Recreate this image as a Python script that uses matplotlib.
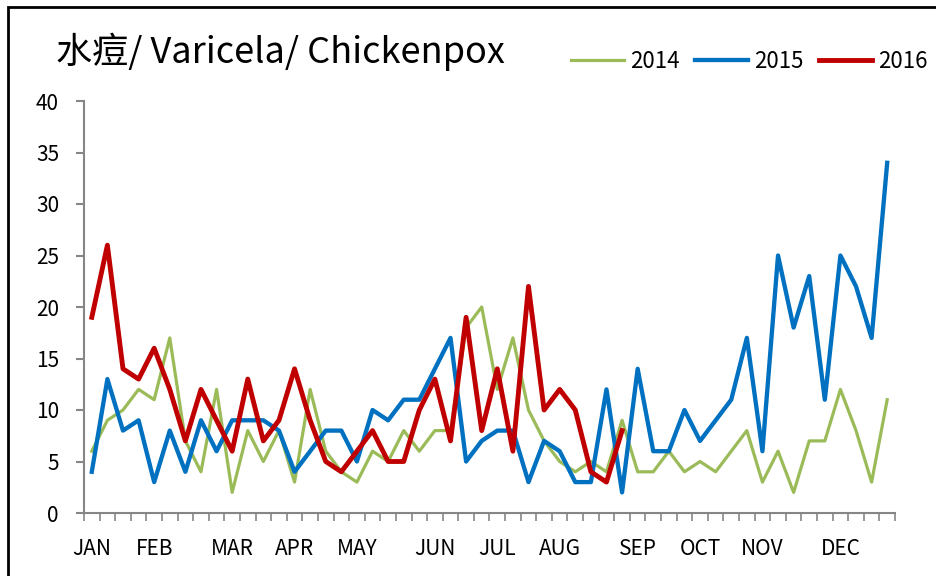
"""
水痘 weekly cases, 2014-2016.
"""

import matplotlib

matplotlib.use("Agg")
import matplotlib.pyplot as plt
from matplotlib.patches import Rectangle

plt.rcParams["font.family"] = ["Noto Sans CJK TC", "DejaVu Sans"]

# weekly counts (52 weeks)
cases_2014 = [6, 9, 10, 12, 11, 17, 7, 4, 12, 2, 8, 5, 8, 3, 12, 6, 4, 3,
              6, 5, 8, 6, 8, 8, 18, 20, 12, 17, 10, 7, 5, 4, 5, 4, 9, 4,
              4, 6, 4, 5, 4, 6, 8, 3, 6, 2, 7, 7, 12, 8, 3, 11]
cases_2015 = [4, 13, 8, 9, 3, 8, 4, 9, 6, 9, 9, 9, 8, 4, 6, 8, 8, 5,
              10, 9, 11, 11, 14, 17, 5, 7, 8, 8, 3, 7, 6, 3, 3, 12, 2, 14,
              6, 6, 10, 7, 9, 11, 17, 6, 25, 18, 23, 11, 25, 22, 17, 34]
cases_2016 = [19, 26, 14, 13, 16, 12, 7, 12, 9, 6, 13, 7, 9, 14, 9, 5, 4, 6,
              8, 5, 5, 10, 13, 7, 19, 8, 14, 6, 22, 10, 12, 10, 4, 3, 8]

month_weeks = [0, 4, 9, 13, 17, 22, 26, 30, 35, 39, 43, 48]
month_labels = ["JAN", "FEB", "MAR", "APR", "MAY", "JUN",
                "JUL", "AUG", "SEP", "OCT", "NOV", "DEC"]

W, H = 937, 576
fig = plt.figure(figsize=(W / 100, H / 100), dpi=100)
ax = fig.add_axes([84 / W, 1 - 513 / H, (895 - 84) / W, (513 - 101) / H])

ax.plot(range(len(cases_2014)), cases_2014, color="#9BBB59", lw=2.3, label="2014",
        solid_joinstyle="round")
ax.plot(range(len(cases_2015)), cases_2015, color="#0070C0", lw=3.1, label="2015",
        solid_joinstyle="round")
ax.plot(range(len(cases_2016)), cases_2016, color="#C00000", lw=3.5, label="2016",
        solid_joinstyle="round")

ax.set_xlim(-0.5, 51.5)
ax.set_ylim(0, 40)
ax.set_yticks(range(0, 41, 5))
ax.set_xticks(month_weeks)
ax.set_xticklabels(month_labels)
ax.set_xticks([i - 0.5 for i in range(53)], minor=True)

axis_grey = "#868686"
for side in ("top", "right"):
    ax.spines[side].set_visible(False)
for side in ("left", "bottom"):
    ax.spines[side].set_color(axis_grey)
    ax.spines[side].set_linewidth(1.5)

ax.tick_params(axis="y", length=6, width=1.5, color=axis_grey, pad=12,
               labelsize=15)
ax.tick_params(axis="x", which="major", length=0, pad=18, labelsize=15)
ax.tick_params(axis="x", which="minor", length=6, width=1.2, color=axis_grey)

fig.text(56 / W, 1 - 52 / H, "水痘/ Varicela/ Chickenpox", fontsize=26,
         weight="medium", va="center", ha="left")

fig.legend(loc="center left", bbox_to_anchor=(571 / W, 1 - 61 / H), ncol=3,
           frameon=False, fontsize=16, handlelength=2.4, handletextpad=0.25,
           columnspacing=0.7, borderaxespad=0, borderpad=0)

fig.patches.append(Rectangle((8 / W, -0.1), 1.2, 1.1 - 7 / H, transform=fig.transFigure,
                             fill=False, edgecolor="black", lw=2))

fig.savefig("out.png", dpi=100)
